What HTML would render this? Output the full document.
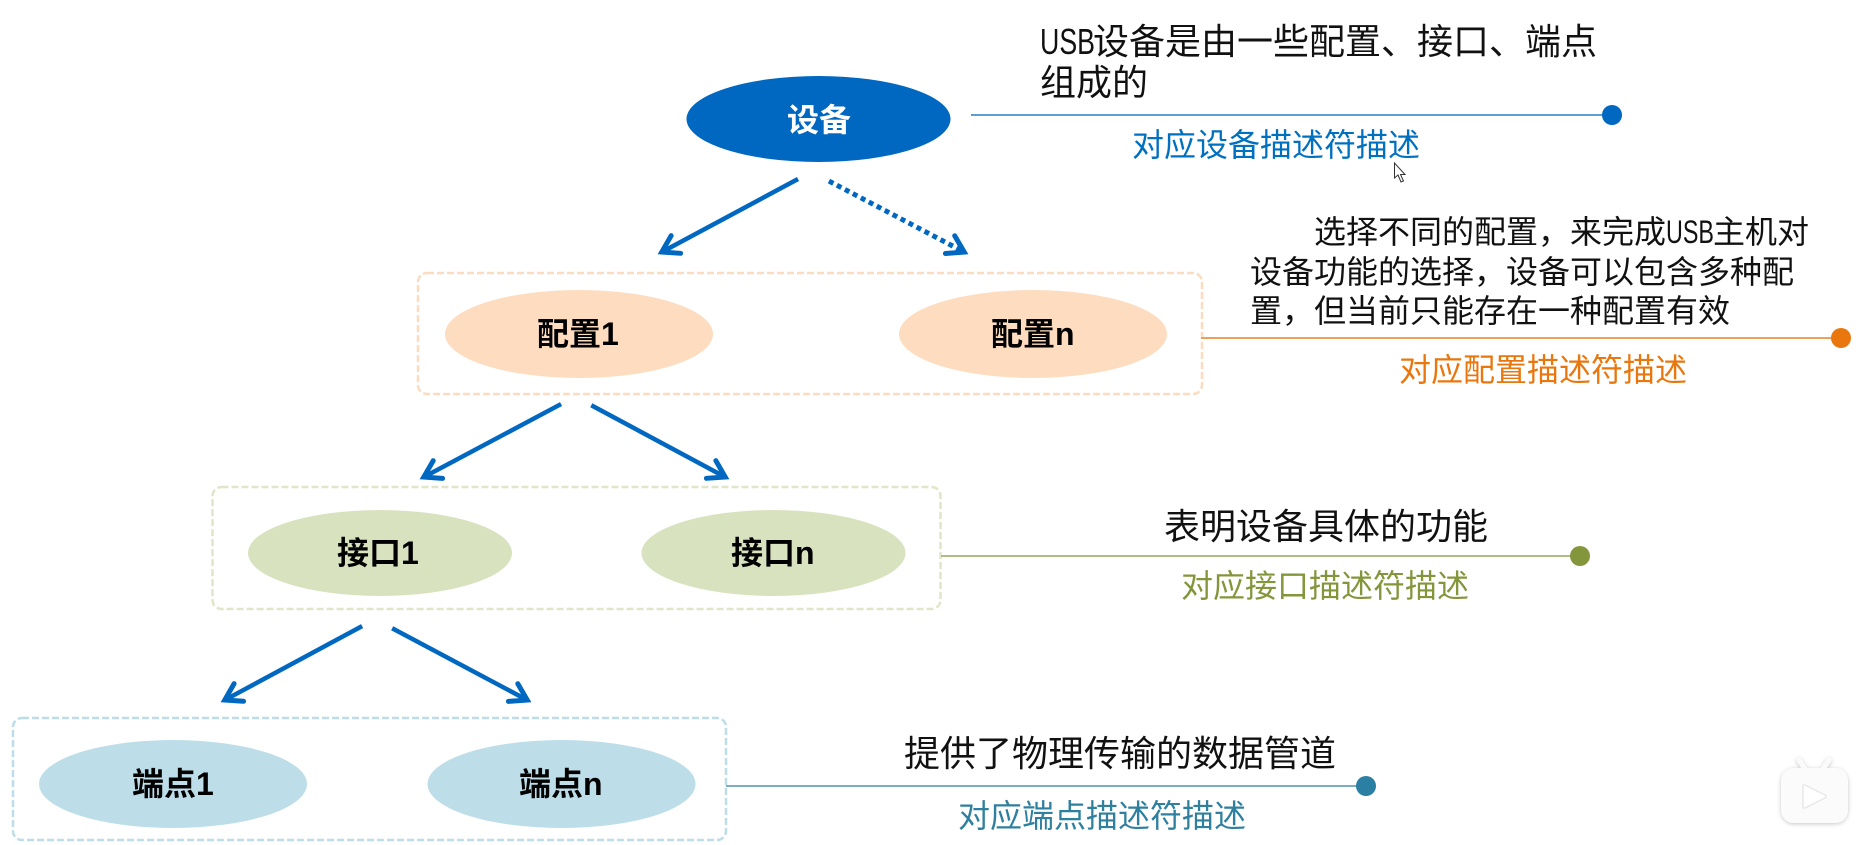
<!DOCTYPE html>
<html><head><meta charset="utf-8">
<style>
html,body{margin:0;padding:0;background:#fff;width:1865px;height:845px;overflow:hidden}
svg{display:block}
text{font-family:"Liberation Sans","Noto Sans CJK SC",sans-serif}
.t{font-size:36px;fill:#111}
.s{font-size:32px;fill:#111}
.d{font-size:32px}
.b{font-size:32px;font-weight:700;fill:#000}
.a line,.a path{stroke:#0068c0;fill:none}
.a line{stroke-width:4.5}
.a path{stroke-width:5;stroke-linecap:round;stroke-linejoin:miter}
</style></head><body>
<svg width="1865" height="845" viewBox="0 0 1865 845" xmlns="http://www.w3.org/2000/svg">
<defs><filter id="sh" x="-30%" y="-30%" width="160%" height="160%"><feDropShadow dx="0" dy="1" stdDeviation="2" flood-color="#000" flood-opacity=".22"/></filter></defs>

<!-- dashed boxes -->
<rect x="418" y="273" width="784" height="121" rx="9" fill="none" stroke="#fbdcc0" stroke-width="2.5" stroke-dasharray="7 3"/>
<rect x="212.500" y="487" width="728" height="122" rx="9" fill="none" stroke="#dfe6c9" stroke-width="2.5" stroke-dasharray="7 3"/>
<rect x="13" y="718" width="713" height="122" rx="9" fill="none" stroke="#bddde9" stroke-width="2.5" stroke-dasharray="7 3"/>

<!-- ellipses -->
<ellipse cx="818.500" cy="119" rx="132" ry="43" fill="#0068c0"/>
<ellipse cx="579" cy="334" rx="134" ry="44" fill="#fddcbf"/>
<ellipse cx="1033" cy="334" rx="134" ry="44" fill="#fddcbf"/>
<ellipse cx="380" cy="553" rx="132" ry="43" fill="#d8e2bf"/>
<ellipse cx="773.500" cy="553" rx="132" ry="43" fill="#d8e2bf"/>
<ellipse cx="173" cy="784" rx="134" ry="44" fill="#bddde9"/>
<ellipse cx="561.500" cy="784" rx="134" ry="44" fill="#bddde9"/>

<!-- node labels -->
<text class="b" x="787" y="131" style="fill:#fff">设备</text>
<text class="b" x="537" y="345">配置1</text>
<text class="b" x="991" y="345">配置n</text>
<text class="b" x="337" y="564">接口1</text>
<text class="b" x="731" y="564">接口n</text>
<text class="b" x="132" y="795">端点1</text>
<text class="b" x="519" y="795">端点n</text>

<!-- arrows -->
<g class="a" transform="translate(660,253) rotate(151.8)"><line x1="-156.600" x2="-3"/><path d="M-18,-10 L-2,0 L-18,10"/></g>
<g class="a" transform="translate(966,253) rotate(27.7)"><line x1="-154.800" x2="-6" stroke-dasharray="5 4" style="stroke-width:5"/><path d="M-18,-10 L-2,0 L-18,10"/></g>
<g class="a" transform="translate(422,478) rotate(152)"><line x1="-157.500" x2="-3"/><path d="M-18,-10 L-2,0 L-18,10"/></g>
<g class="a" transform="translate(727,478) rotate(28.2)"><line x1="-154" x2="-3"/><path d="M-18,-10 L-2,0 L-18,10"/></g>
<g class="a" transform="translate(223,701) rotate(151.7)"><line x1="-158" x2="-3"/><path d="M-18,-10 L-2,0 L-18,10"/></g>
<g class="a" transform="translate(529,701) rotate(28)"><line x1="-155" x2="-3"/><path d="M-18,-10 L-2,0 L-18,10"/></g>

<!-- connector lines and dots -->
<line x1="971" y1="115" x2="1612" y2="115" stroke="#5f9dd3" stroke-width="2"/>
<circle cx="1612" cy="115" r="10" fill="#0068c0"/>
<line x1="1201" y1="338" x2="1841" y2="338" stroke="#eda05c" stroke-width="2"/>
<circle cx="1841" cy="338" r="10" fill="#e9770e"/>
<line x1="941" y1="556" x2="1580" y2="556" stroke="#b0bb85" stroke-width="2"/>
<circle cx="1580" cy="556" r="10" fill="#84963c"/>
<line x1="726" y1="786" x2="1366" y2="786" stroke="#7eacc0" stroke-width="2"/>
<circle cx="1366" cy="786" r="10" fill="#2a7fa3"/>

<!-- description 1 -->
<text class="t" x="1040" y="54" textLength="55" lengthAdjust="spacingAndGlyphs">USB</text>
<text class="t" x="1093" y="54">设备是由一些配置、接口、端点</text>
<text class="t" x="1040" y="95">组成的</text>
<text class="d" x="1132" y="156" fill="#0070c0">对应设备描述符描述</text>

<!-- description 2 -->
<text class="s" x="1314" y="243">选择不同的配置，来完成</text>
<text class="s" x="1666" y="243" textLength="48" lengthAdjust="spacingAndGlyphs">USB</text>
<text class="s" x="1713" y="243">主机对</text>
<text class="s" x="1250" y="283">设备功能的选择，设备可以包含多种配</text>
<text class="s" x="1250" y="322">置，但当前只能存在一种配置有效</text>
<text class="d" x="1399" y="381" fill="#e9770e">对应配置描述符描述</text>

<!-- description 3 -->
<text class="t" x="1164" y="539">表明设备具体的功能</text>
<text class="d" x="1181" y="597" fill="#84963c">对应接口描述符描述</text>

<!-- description 4 -->
<text class="t" x="904" y="766">提供了物理传输的数据管道</text>
<text class="d" x="958" y="827" fill="#2f7f9f">对应端点描述符描述</text>

<!-- cursor -->
<path d="M1394.500,163 L1394.500,178 L1398,175 L1401,182 L1403.500,181 L1400.500,174.500 L1405,174.500 Z" fill="#fff" stroke="#333" stroke-width="1"/>

<!-- watermark icon -->
<g filter="url(#sh)">
<path d="M1805,769 L1799,760 M1823,769 L1829,760" stroke="#fafafa" stroke-width="5" stroke-linecap="round"/>
<rect x="1781" y="768" width="67" height="55" rx="13" fill="#fbfbfb"/>
</g>
<path d="M1805,785 L1825,795 Q1827,796 1825,798 L1805,808 Q1803,809 1803,806 L1803,787 Q1803,784 1805,785 Z" fill="#fff" stroke="#e8e8e8" stroke-width="1.500"/>
</svg>
</body></html>
